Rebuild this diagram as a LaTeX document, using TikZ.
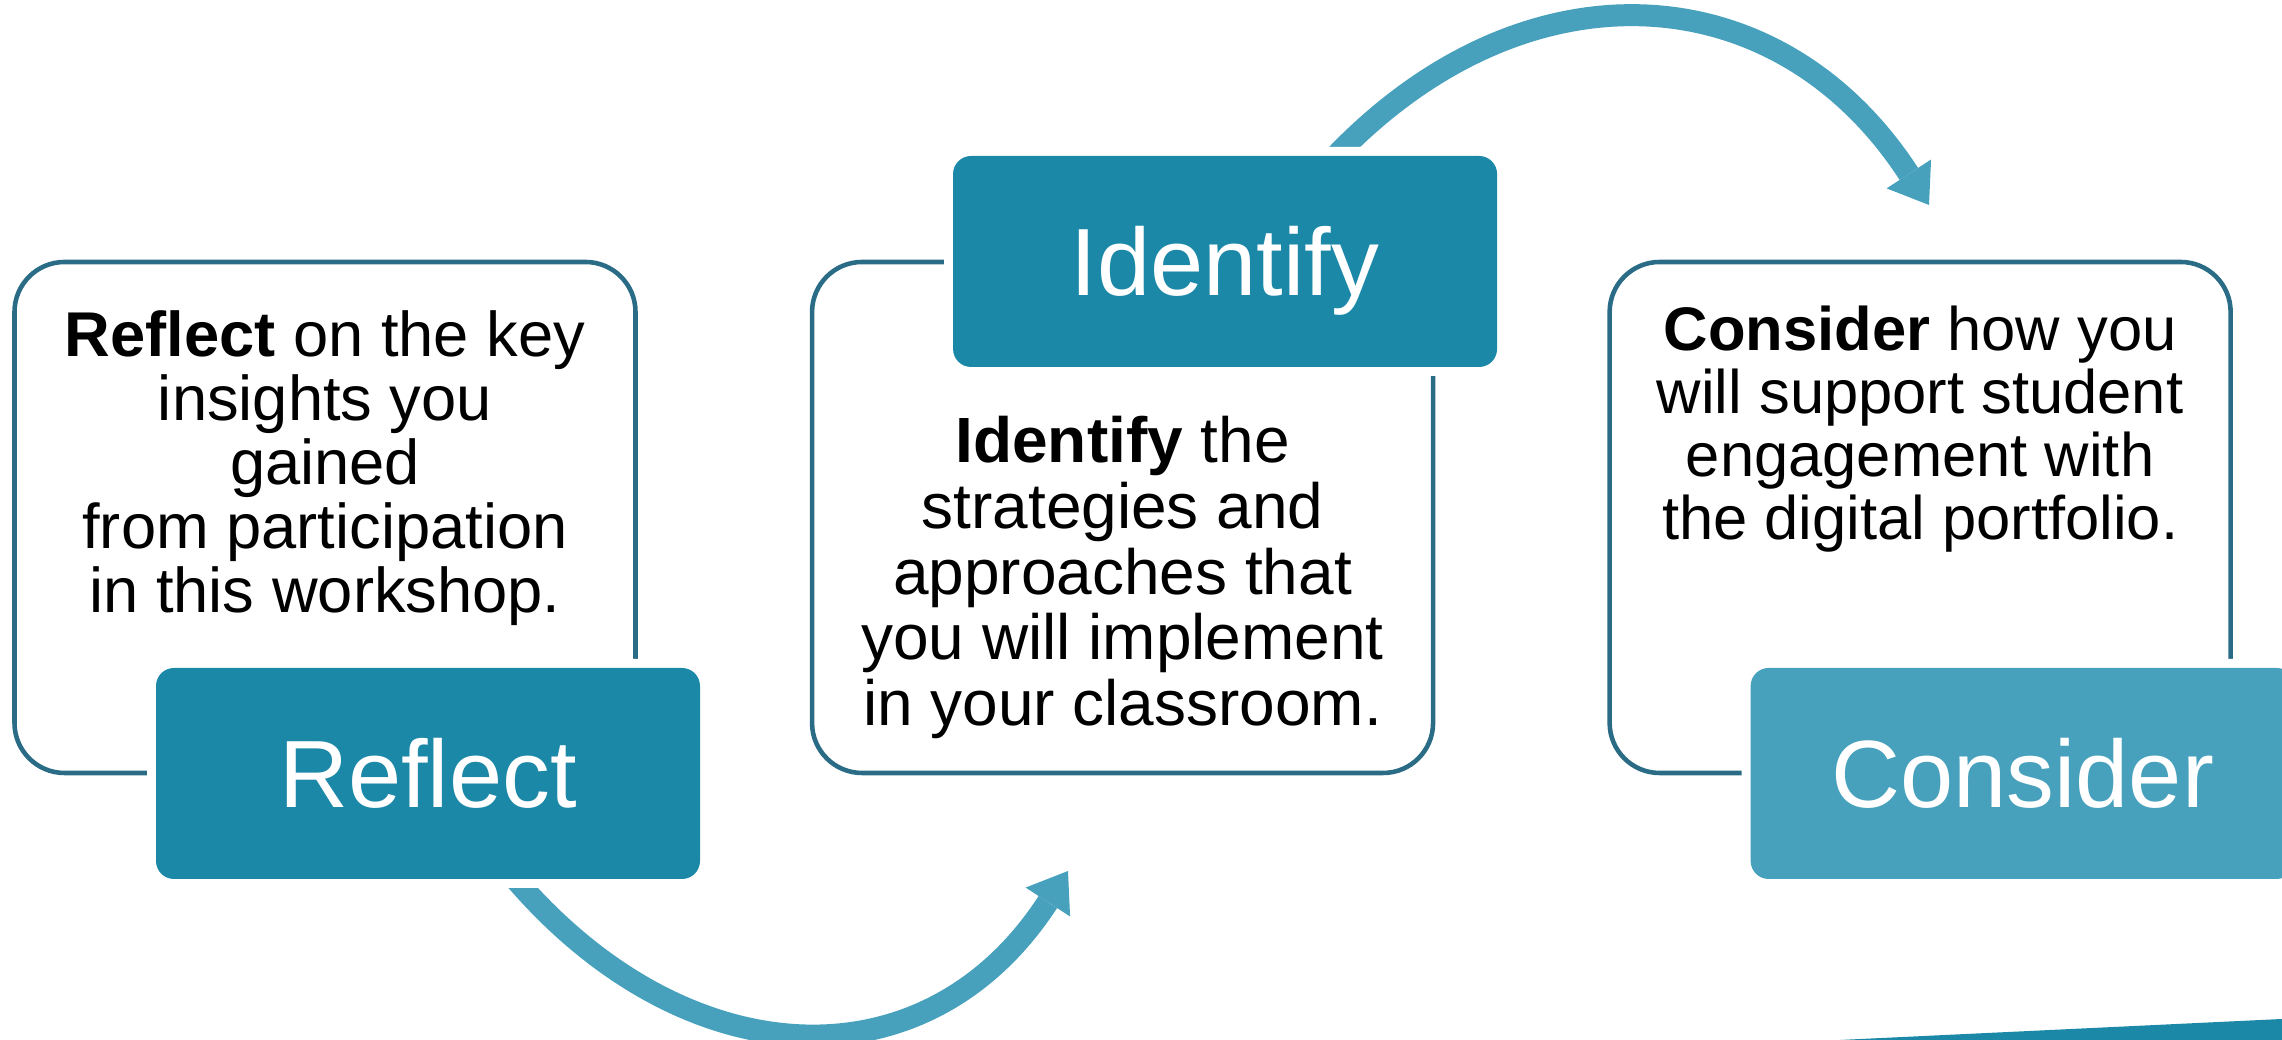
\documentclass[tikz,border=0pt]{standalone}
\usepackage{fontspec}
\setmainfont{Liberation Sans}
\usetikzlibrary{positioning,arrows.meta}
\definecolor{panelline}{RGB}{42,107,134}
\definecolor{phasedark}{RGB}{27,136,168}
\definecolor{phaselight}{RGB}{71,161,189}
\tikzset{%
panel/.style={draw=panelline,line width=1.3pt,rounded corners=0.5cm,minimum width=6.21cm,minimum height=5.11cm,inner sep=0},
phase/.style={fill=#1,rounded corners=0.18cm,minimum width=5.44cm,minimum height=2.11cm,inner sep=0,text=white,font=\fontsize{27.2}{30}\selectfont,text height=19.4pt,text depth=0pt,preaction={draw=white,line width=0.18cm}},
phase/.default=phasedark,
blurb/.style={align=center,font=\fontsize{18}{18.2}\selectfont,inner sep=0,anchor=north},
cyclearrow/.style={draw=phaselight,line width=0.22cm,-{Triangle[length=0.37cm,width=0.53cm,line width=0pt]}}
}

\begin{document}
\begin{tikzpicture}

    \useasboundingbox (0,0) rectangle (22.82,10.40);
    \clip (0,0) rectangle (22.82,10.40);

    % outline panels
    \node[panel] (box1) at (3.25,5.225) {};
    \node[panel] (box2) [right=1.72cm of box1] {};
    \node[panel] (box3) [right=1.72cm of box2] {};

    % curved arrows, ends hidden under the phase labels
    \coordinate (a1start) at (5.11,1.66);
    \coordinate (a1end) at (10.68,1.69);
    \coordinate (a2start) at (13.30,8.78);
    \coordinate (a2end) at (19.29,8.35);

    \draw[cyclearrow] (a1start) to[out=-50,in=237,looseness=1.21] (a1end);
    \draw[cyclearrow] (a2start) to[out=47,in=123,looseness=1.19] (a2end);

    % phase labels
    \node[phase] (reflect) at ([shift={(1.03,-2.56)}]box1.center) {Reflect};
    \node[phase] (identify) at ([shift={(1.025,2.56)}]box2.center) {Identify};
    \node[phase=phaselight] (consider) at ([shift={(1.025,-2.56)}]box3.center) {Consider};

    % panel texts
    \node[blurb] (reflecttxt) at ([yshift=-0.50cm]box1.north)
        {\textbf{Reflect} on the key\\insights you\\gained\\from participation\\in this workshop.};
    \node[blurb,font=\fontsize{18.2}{18.7}\selectfont] (identifytxt) at ([yshift=-1.56cm]box2.north)
        {\textbf{Identify} the\\strategies and\\approaches that\\you will implement\\in your classroom.};
    \node[blurb,font=\fontsize{17.5}{17.9}\selectfont] (considertxt) at ([yshift=-0.46cm]box3.north)
        {\textbf{Consider} how you\\will support student\\engagement with\\the digital portfolio.};

    % corner strip
    \fill[phasedark] (18.40,0) -- (22.82,0.21) -- (22.82,0) -- cycle;

\end{tikzpicture}
\end{document}
